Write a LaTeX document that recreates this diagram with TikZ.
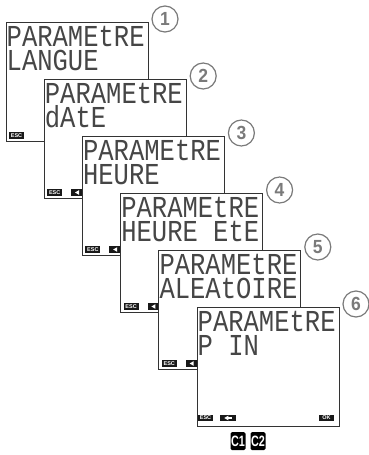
\documentclass[tikz,border=0pt]{standalone}
\usepackage{fontspec}
\usetikzlibrary{calc}
\newfontfamily\lcdfont[FakeStretch=0.84]{Liberation Mono}
\newfontfamily\labfont{Liberation Sans}
\newfontfamily\condfont[FakeStretch=0.72]{Liberation Sans}
\newfontfamily\numfont[FakeStretch=0.92]{Liberation Sans}
\definecolor{scr}{HTML}{333333}
\definecolor{ringc}{HTML}{7A7A7A}
\definecolor{lcdtext}{HTML}{464646}
\newcommand\lcdlines[2]{\vtop{\baselineskip=24pt\lineskiplimit=-100pt\lineskip=0pt\hbox{#1}\hbox{#2}}}
\begin{document}
\begin{tikzpicture}[x=1pt,y=-1pt,
  screen/.style={draw=scr, line width=0.9pt, fill=white},
  lcd/.style={anchor=base west, inner sep=0pt, font=\lcdfont\fontsize{30.4}{24}\selectfont, text=lcdtext},
  keybox/.style={fill=black!90, inner sep=0pt, minimum width=15pt, minimum height=6.5pt, text=white, font=\labfont\bfseries\fontsize{5.5}{5.5}\selectfont},
  arrowbox/.style={fill=black!90, inner sep=0pt, minimum width=16pt, minimum height=6.5pt},
  ring/.style={circle, draw=ringc, line width=1.2pt, minimum size=26pt, inner sep=0pt, text=ringc, font=\numfont\bfseries\fontsize{19}{19}\selectfont},
  cbox/.style={fill=black, rounded corners=1.5pt, minimum width=15pt, minimum height=18pt, inner sep=0pt, text=white, font=\condfont\bfseries\fontsize{15}{15}\selectfont}
]
\useasboundingbox (0,0) rectangle (368,455);

\foreach \i/\ltwo in {1/LANGUE,2/dAtE,3/HEURE,4/HEURE EtE,5/{{\spaceskip=0.01pt ALEAtO IRE}}}{
  \pgfmathsetmacro\L{6+38.2*(\i-1)}
  \pgfmathsetmacro\T{22+57*(\i-1)}
  \pgfmathsetmacro\R{\L+142}
  \pgfmathsetmacro\B{\T+119}
  \draw[screen] (\L,\T) rectangle (\R,\B);
  \node[lcd] (txt\i) at (\L+0.5,\T+24) {\lcdlines{PARAMEtRE}{\ltwo}};
  \node[keybox] (esc\i) at (\L+10.5,\B-5.5) {ESC};
  \ifnum\i>1
    \node[arrowbox] (ar\i) at (\L+35,\B-5.5) {};
    \fill[white] ($(ar\i.west)+(4,0)$) -- ++(4,-2.3) -- ++(0,4.6) -- cycle;
  \fi
  \node[ring] (c\i) at (\R+17,\T-3) {\i};
}

% screen 6 (front)
\def\L{197}\def\T{307}\def\R{339}\def\B{426}
\draw[screen] (\L,\T) rectangle (\R,\B);
\node[lcd] (txt6) at (\L+0.5,\T+24) {\lcdlines{PARAMEtRE}{P IN}};
\node[keybox] (esc6) at (\L+8.5,\B-8) {ESC};
\node[arrowbox] (ar6) at (\L+30.5,\B-8) {};
\fill[white] ($(ar6.west)+(5,0)$) -- ++(4,-2.3) -- ++(0,4.6) -- cycle;
\fill[white] ($(ar6.west)+(9,-0.8)$) rectangle ++(4,1.6);
\node[keybox] (ok6) at (\R-12.5,\B-8) {OK};
\node[ring] (c6) at (\R+17,\T-3) {6};

\node[cbox] (k1) at (238,441) {C1};
\node[cbox] (k2) at (258,441) {C2};
\end{tikzpicture}
\end{document}
